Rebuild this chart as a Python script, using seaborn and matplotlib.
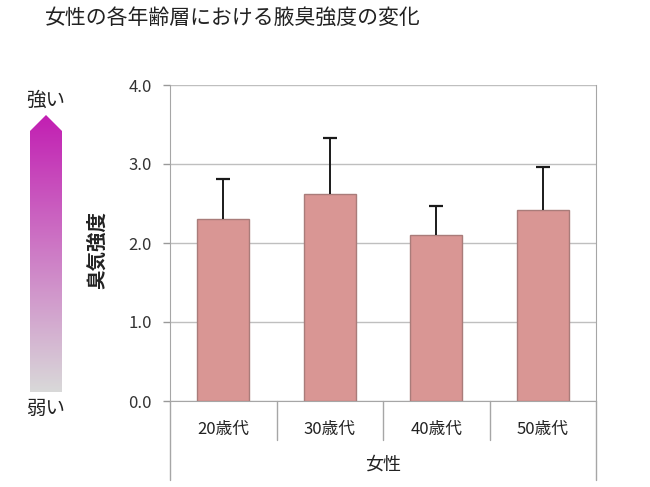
import numpy as np
import pandas as pd
import matplotlib
matplotlib.use("Agg")
import matplotlib.pyplot as plt
import seaborn as sns
from matplotlib.patches import Polygon

categories = ["20歳代", "30歳代", "40歳代", "50歳代"]
means = [2.30, 2.62, 2.10, 2.42]
sds = [0.51, 0.71, 0.37, 0.54]
yticks = [0.0, 1.0, 2.0, 3.0, 4.0]
ytick_labels = ["0.0", "1.0", "2.0", "3.0", "4.0"]
title = "女性の各年齢層における腋臭強度の変化"
ylabel = "臭気強度"
group_label = "女性"
strong_label = "強い"
weak_label = "弱い"

sns.set_style("white")
plt.rcParams['font.family'] = ['Noto Sans CJK JP', 'DejaVu Sans']

W, H = 650, 487
fig = plt.figure(figsize=(6.5, 4.87), dpi=100)
ax = fig.add_axes([170 / W, 1 - 401 / H, (596 - 170) / W, (401 - 85) / H])

df = pd.DataFrame({"cat": categories, "val": means})
sns.barplot(data=df, x="cat", y="val", ax=ax, color="#D99694", width=0.49,
            saturation=1, errorbar=None, edgecolor="#A97C7A", linewidth=1.0, zorder=3)
xs = np.arange(len(categories))
tops = np.array(means) + np.array(sds)
ax.vlines(xs, means, tops, colors="#1a1a1a", linewidth=1.4, zorder=4)
ax.plot(xs, tops, linestyle="none", marker="_", markersize=10, markeredgewidth=1.6,
        color="#1a1a1a", zorder=4)

ax.set_ylim(0, 4.0)
ax.set_xlim(-0.5, len(categories) - 0.5)
ax.set_yticks(yticks)
ax.set_yticklabels(ytick_labels, fontsize=12, color="#333333")
ax.yaxis.grid(True, color="#BFBFBF", linewidth=1.0, zorder=0)
ax.set_axisbelow(True)
ax.tick_params(axis="y", left=True, length=5, color="#999999", width=1, pad=8)
ax.tick_params(axis="x", bottom=False, labelsize=12, labelcolor="#222222", pad=11)
ax.set_xlabel("")
ax.set_ylabel("")
for s in ["left", "right", "bottom"]:
    ax.spines[s].set_visible(True)
    ax.spines[s].set_color("#A6A6A6")
ax.spines["top"].set_visible(False)

tr = ax.get_xaxis_transform()
for b in np.arange(-0.5, len(categories), 1.0):
    outer = b in (-0.5, len(categories) - 0.5)
    y0 = -0.25 if outer else -0.123
    ax.plot([b, b], [0, y0], transform=tr, color="#A6A6A6", lw=1.0, clip_on=False)
ax.text((len(categories) - 1) / 2, -0.2, group_label, transform=tr, ha="center",
        va="center", fontsize=13, color="#222222")

fig.text(45 / W, 1 - 18 / H, title, fontsize=15, ha="left", va="center", color="#222222")
fig.text(97 / W, 1 - 250 / H, ylabel, fontsize=14, fontweight="bold", rotation=90,
         ha="center", va="center", color="#222222")

# gradient arrow
ov = fig.add_axes([0, 0, 1, 1], facecolor="none")
ov.set_xlim(0, W)
ov.set_ylim(H, 0)
ov.axis("off")
top_c = np.array([0.76, 0.12, 0.70])
bot_c = np.array([0.85, 0.85, 0.85])
n = 256
t = np.linspace(0, 1, n)[:, None]
grad = (top_c[None, :] * (1 - t) + bot_c[None, :] * t)[:, None, :]
x0, x1, ytip, ysh, ybot = 30, 62, 115, 131, 392
img = ov.imshow(grad, extent=[x0, x1, ybot, ytip], aspect="auto", zorder=1)
poly = Polygon([[x0, ybot], [x0, ysh], [(x0 + x1) / 2, ytip], [x1, ysh], [x1, ybot]],
               closed=True, transform=ov.transData, facecolor="none", edgecolor="none")
ov.add_patch(poly)
img.set_clip_path(poly)
ov.text(46, 100, strong_label, fontsize=14, ha="center", va="center", color="#222222")
ov.text(46, 408, weak_label, fontsize=14, ha="center", va="center", color="#222222")

fig.savefig("out.png", dpi=100)
